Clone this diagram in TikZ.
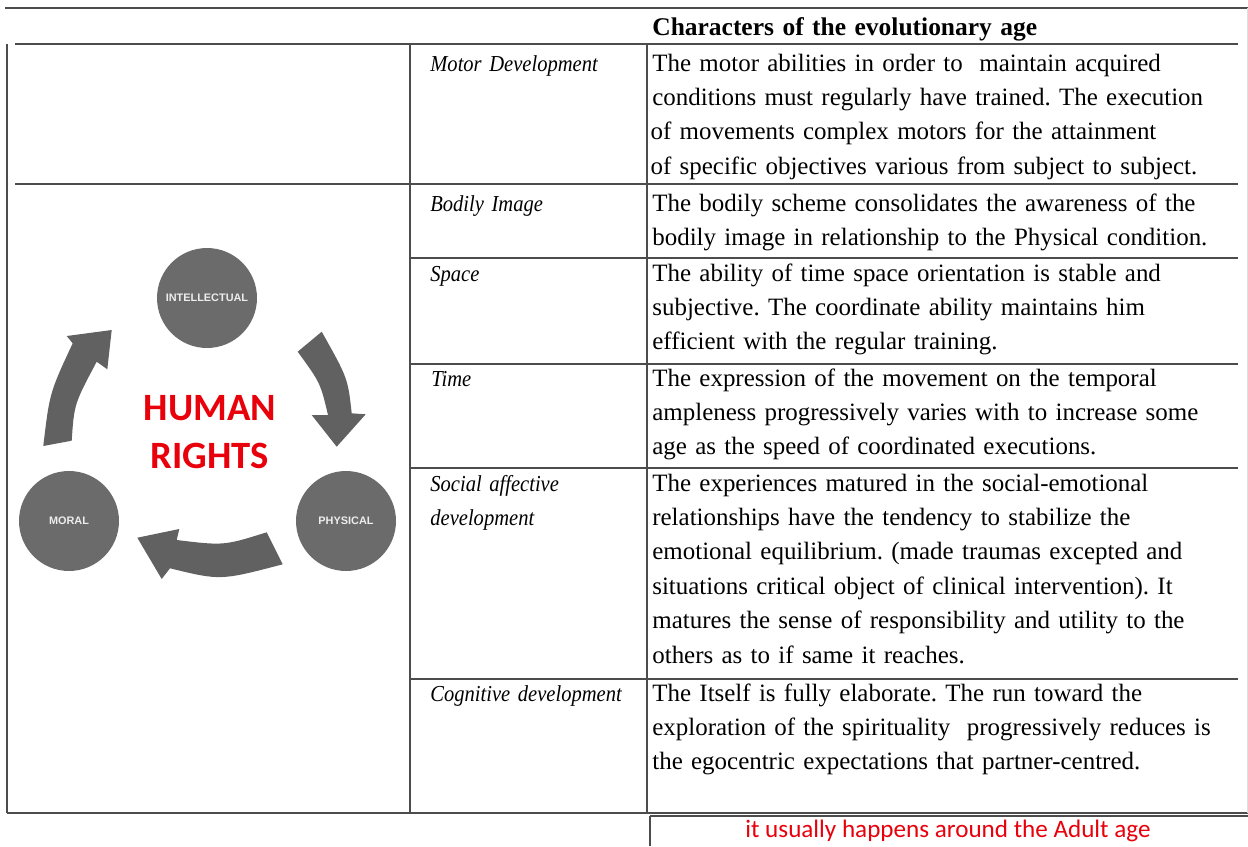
\documentclass[tikz,border=0pt]{standalone}
\usepackage{fontspec}
\setmainfont{Liberation Serif}
\newfontfamily\calibrifont{Carlito}
\newfontfamily\arialfont{Liberation Sans}
\newfontfamily\labelfont[FakeStretch=0.9]{Liberation Serif}
\usepackage{tikz}
\usetikzlibrary{positioning,calc}
\definecolor{rulegray}{HTML}{4C4C4C}
\definecolor{cyclegray}{HTML}{6B6B6B}
\definecolor{arrowgray}{HTML}{616161}
\definecolor{hrred}{HTML}{E8000B}
\frenchspacing

\begin{document}
\begin{tikzpicture}[x=0.02cm, y=-0.02cm, rule/.style={draw=rulegray, line width=0.8pt},
	cell/.style={anchor=base west, inner sep=0pt, text width=13cm, align=left, font=\fontsize{14.2}{19.6}\selectfont},
	lbl/.style={anchor=base west, inner sep=0pt, text width=4.2cm, align=left, font=\labelfont\itshape\fontsize{13}{19.6}\selectfont}]
		\tikzstyle{hub}=[circle, fill=cyclegray, minimum size=2cm, inner sep=0pt, text=white!93!black,
		font=\arialfont\bfseries\fontsize{6.2}{7}\selectfont]
		\useasboundingbox (0,0) rectangle (1248,846);

		\draw[rule] (5,8) -- (1248,8); \draw[rule] (15,44) -- (1238,44);
		\draw[rule] (7,44) -- (7,813); \draw[rule] (410,44) -- (410,813);
		\draw[rule] (647,44) -- (647,813); \draw[rule] (15,184) -- (1238,184);
		\draw[rule] (410,258) -- (1238,258); \draw[rule] (410,364) -- (1238,364);
		\draw[rule] (410,468) -- (1238,468); \draw[rule] (410,679) -- (1238,679);
		\draw[rule] (7,813) -- (1248,813); \draw[rule] (650,816) -- (1248,816);
		\draw[rule] (650,816) -- (650,846); \draw[draw=gray!25] (1247,8) -- (1247,813);

		\node[cell, font=\bfseries\fontsize{14.5}{19.6}\selectfont] (head) at (652,35) {Characters of the evolutionary age};

		\node[lbl] (motor) at (430,71) {Motor Development};
		\node[lbl] (bodily) at (430,211) {Bodily Image};
		\node[lbl] (space) at (430,281) {Space};
		\node[lbl] (time) at (431,386) {Time};
		\node[lbl] (social) at (430,491) {Social affective\\development};
		\node[lbl] (cognitive) at (430,701) {Cognitive development};

		\node[cell] (motortxt) at (652,71) {The motor abilities in order to\ \ maintain acquired\\conditions must regularly have trained. The execution\\\hspace*{-1pt}of movements complex motors for the attainment\\\hspace*{-1pt}of specific objectives various from subject to subject.};
		\node[cell] (bodilytxt) at (652,211) {The bodily scheme consolidates the awareness of the\\bodily image in relationship to the Physical condition.};
		\node[cell] (spacetxt) at (652,281) {The ability of time space orientation is stable and\\subjective. The coordinate ability maintains him\\efficient with the regular training.};
		\node[cell] (timetxt) at (652,386) {The expression of the movement on the temporal\\ampleness progressively varies with to increase some\\age as the speed of coordinated executions.};
		\node[cell] (socialtxt) at (652,491) {The experiences matured in the social-emotional\\relationships have the tendency to stabilize the\\emotional equilibrium. (made traumas excepted and\\situations critical object of clinical intervention). It\\matures the sense of responsibility and utility to the\\others as to if same it reaches.};
		\node[cell] (cognitivetxt) at (652,701) {The Itself is fully elaborate. The run toward the\\exploration of the spirituality\ \ progressively reduces is\\the egocentric expectations that partner-centred.};

		\node[anchor=base, inner sep=0pt, text=hrred, font=\calibrifont\fontsize{14.3}{17}\selectfont] (note) at (948,837) {it usually happens around the Adult age};

		\node[hub] (intel) at (207,298) {INTELLECTUAL};
		\node[hub] (moral) at (69,521) {MORAL};
		\node[hub] (phys) at (346,521) {PHYSICAL};
		\node[anchor=base, inner sep=0pt, text width=4cm, align=center, text=hrred, font=\calibrifont\bfseries\fontsize{22}{27.4}\selectfont] (rights) at (210,420) {HUMAN\\RIGHTS};

		\fill[arrowgray] (321.7,331.7) .. controls (347.8,378.1) .. (351.7,413.3) -- (365.7,414.3) -- (336.7,446.7) -- (311.7,415) -- (328,415) .. controls (320.4,382.9) .. (297.7,351.7) -- cycle;
		\fill[arrowgray] (266.7,532.3) .. controls (223.8,545.7) .. (176.7,540) -- (179.3,529) -- (137.3,537.7) -- (161.7,579) -- (170,568.3) .. controls (220.5,580.6) .. (282.7,564.3) -- cycle;
		\fill[arrowgray] (43.3,446) .. controls (49.6,392.8) .. (72.7,343.3) -- (66.7,336) -- (111.7,330) -- (107.3,369.3) -- (96.7,361.7) .. controls (74.2,404) .. (71.7,440.7) -- cycle;
\end{tikzpicture}
\end{document}
